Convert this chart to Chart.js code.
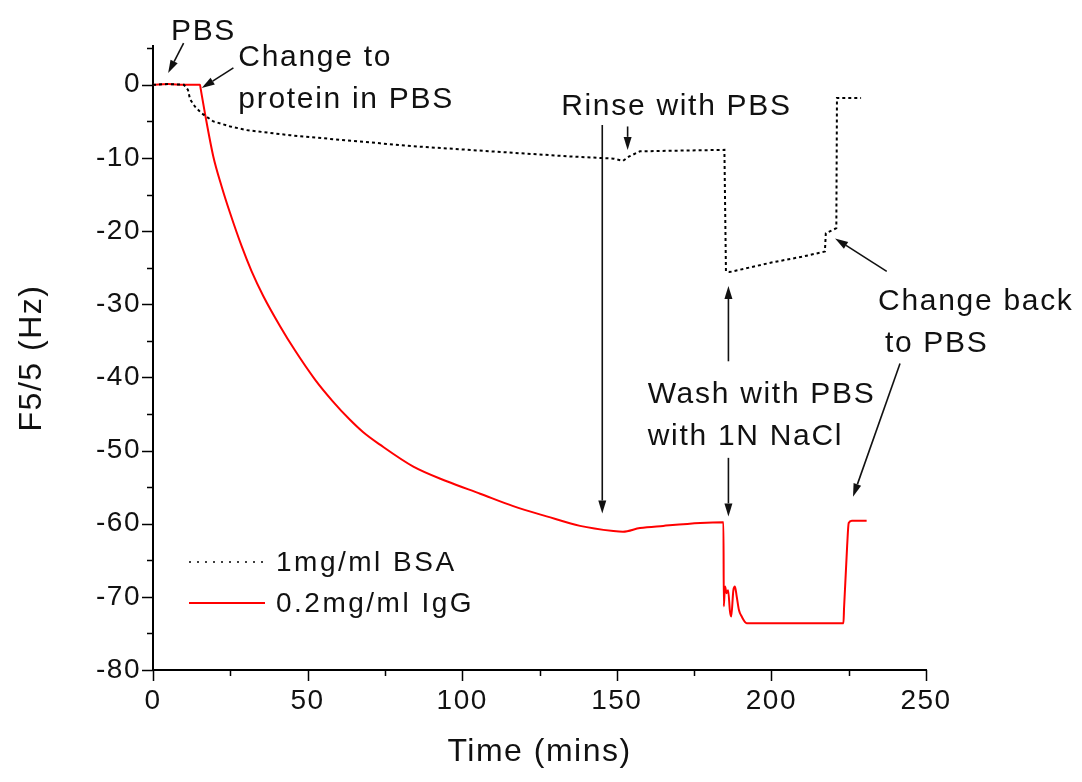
<!DOCTYPE html>
<html>
<head>
<meta charset="utf-8">
<title>QCM frequency shift</title>
<script src="https://cdn.jsdelivr.net/npm/chart.js@4.4.1/dist/chart.umd.min.js"></script>
<style>
  html, body { margin: 0; padding: 0; background: #fff; }
  #wrap { width: 1082px; height: 782px; }
</style>
</head>
<body>
<div id="wrap"><canvas id="myChart" width="1082" height="782"></canvas></div>
<script>
// data (time in mins, shift in Hz)
const bsaTime = [0, 5, 10, 11.3, 12, 13.6, 15.7, 19.5, 25, 30.3, 44.3, 62.6, 73.4, 84, 95, 116.5, 135, 144.6, 149, 152, 154, 157.5, 170, 184.8, 185.3, 186.5, 200, 210, 217.3, 217.6, 221, 221.2, 229];
const bsaShift = [0, 0.1, 0, -0.7, -2, -3, -3.9, -5.0, -5.7, -6.2, -6.9, -7.6, -8.0, -8.4, -8.7, -9.3, -9.8, -10.0, -10.1, -10.4, -9.8, -9.1, -9.0, -8.9, -25.5, -25.6, -24.3, -23.5, -22.8, -20.3, -19.6, -1.8, -1.8];

const iggTime = [0, 5, 10, 15.2, 15.4, 16.8, 19.5, 22.2, 24.9, 28.7, 31.9, 35.7, 41.1, 45.9, 52.4, 58, 63.7, 68, 73.4, 84.2, 95, 105.8, 116.5, 127.3, 138.1, 148.9, 152, 157.5, 165, 177, 184.5, 184.6, 185, 185.5, 186, 186.6, 187, 187.7, 188.2, 188.8, 189.5, 190.4, 192, 223.3, 223.5, 224.5, 225, 226, 230.8];
const iggShift = [0, 0.1, 0, 0, -0.5, -3.9, -9.8, -13.9, -17.5, -22.1, -25.5, -28.9, -33.0, -36.3, -40.3, -43.2, -45.8, -47.5, -49.2, -52.2, -54.2, -55.9, -57.6, -59.0, -60.3, -61.0, -61.1, -60.6, -60.3, -59.9, -59.8, -71.3, -68.6, -69.5, -69.1, -72.0, -72.7, -69.1, -68.6, -70.0, -71.8, -72.7, -73.6, -73.6, -71.5, -63.0, -59.9, -59.6, -59.6];

const seriesNames = ['1mg/ml BSA', '0.2mg/ml IgG'];
const xTicks = [0, 50, 100, 150, 200, 250];
const yTicks = [-80, -70, -60, -50, -40, -30, -20, -10, 0];

// notes: text lines and arrows, in data units
const notes = [
  { text: 'PBS', x: 5.8, y: 6.1 },
  { text: 'Change to', x: 27.6, y: 2.5 },
  { text: 'protein in PBS', x: 27.6, y: -3.2 },
  { text: 'Rinse with PBS', x: 132, y: -4.1 },
  { text: 'Wash with PBS', x: 160, y: -43.5 },
  { text: 'with 1N NaCl', x: 160, y: -49.2 },
  { text: 'Change back', x: 234.5, y: -30.8 },
  { text: 'to PBS', x: 236.7, y: -36.5 }
];
const arrows = [
  [9.9, 5.7, 4.9, 1.6],
  [26.0, 2.3, 15.75, -0.45],
  [145.3, -5.5, 145.3, -58.6],
  [153.5, -5.7, 153.5, -8.9],
  [186.1, -37.8, 186.1, -27.5],
  [186.1, -51.0, 186.1, -59.0],
  [237.3, -25.5, 220.6, -21.0],
  [241.6, -38.1, 226.4, -56.3]
];

const FONT = '"Liberation Sans", Arial, sans-serif';

function toPoints(xs, ys) {
  return xs.map((x, i) => ({ x: x, y: ys[i] }));
}

// the old plot software spaced its letters a little wider
const spacing = {
  id: 'spacing',
  beforeDraw(chart) {
    chart.ctx.letterSpacing = '1.5px';
  }
};

// minor/major tick marks drawn outside the axes
const tickMarks = {
  id: 'tickMarks',
  afterDraw(chart) {
    const ctx = chart.ctx;
    const xs = chart.scales.x, ys = chart.scales.y;
    const area = chart.chartArea;
    ctx.save();
    ctx.strokeStyle = '#000';
    ctx.lineWidth = 1.5;
    ctx.beginPath();
    for (let v = -80; v <= 5; v += 5) {
      const py = Math.round(ys.getPixelForValue(v)) + 0.5;
      const len = v % 10 === 0 ? 11 : 6;
      ctx.moveTo(area.left, py);
      ctx.lineTo(area.left - len, py);
    }
    for (let v = 0; v <= 250; v += 25) {
      const px = Math.round(xs.getPixelForValue(v)) + 0.5;
      const len = v % 50 === 0 ? 11 : 6;
      ctx.moveTo(px, area.bottom);
      ctx.lineTo(px, area.bottom + len);
    }
    ctx.stroke();
    ctx.restore();
  }
};

// legend drawn inside the plot, lower left
const innerLegend = {
  id: 'innerLegend',
  afterDraw(chart) {
    const ctx = chart.ctx;
    ctx.save();
    ctx.font = '28px ' + FONT;
    ctx.letterSpacing = '2.5px';
    ctx.textBaseline = 'middle';
    chart.data.datasets.forEach((ds, i) => {
      const y = 562 + i * 41;
      ctx.strokeStyle = ds.borderColor;
      ctx.lineWidth = i === 0 ? 1.5 : ds.borderWidth;
      ctx.setLineDash(i === 0 ? [2, 6] : []);
      ctx.beginPath();
      ctx.moveTo(189, y);
      ctx.lineTo(265, y);
      ctx.stroke();
      ctx.setLineDash([]);
      ctx.fillStyle = '#111';
      ctx.fillText(ds.label, 276, y + 1);
    });
    ctx.restore();
  }
};

// annotation text and arrows
const notesPlugin = {
  id: 'notes',
  afterDraw(chart) {
    const ctx = chart.ctx;
    const xs = chart.scales.x, ys = chart.scales.y;
    ctx.save();
    ctx.fillStyle = '#111';
    ctx.font = '30px ' + FONT;
    ctx.letterSpacing = '1.7px';
    ctx.textBaseline = 'alphabetic';
    notes.forEach(n => {
      ctx.fillText(n.text, xs.getPixelForValue(n.x), ys.getPixelForValue(n.y));
    });
    ctx.strokeStyle = '#111';
    ctx.lineWidth = 1.6;
    arrows.forEach(a => {
      const x1 = xs.getPixelForValue(a[0]), y1 = ys.getPixelForValue(a[1]);
      const x2 = xs.getPixelForValue(a[2]), y2 = ys.getPixelForValue(a[3]);
      const ang = Math.atan2(y2 - y1, x2 - x1);
      const hl = 13, hw = 4;
      const bx = x2 - hl * Math.cos(ang), by = y2 - hl * Math.sin(ang);
      ctx.beginPath();
      ctx.moveTo(x1, y1);
      ctx.lineTo(bx, by);
      ctx.stroke();
      ctx.beginPath();
      ctx.moveTo(x2, y2);
      ctx.lineTo(bx - hw * Math.sin(ang), by + hw * Math.cos(ang));
      ctx.lineTo(bx + hw * Math.sin(ang), by - hw * Math.cos(ang));
      ctx.closePath();
      ctx.fillStyle = '#111';
      ctx.fill();
    });
    ctx.restore();
  }
};

const ctxChart = document.getElementById('myChart').getContext('2d');
const myChart = new Chart(ctxChart, {
  type: 'line',
  data: {
    datasets: [{
      label: seriesNames[0],
      data: toPoints(bsaTime, bsaShift),
      borderColor: '#000000',
      borderWidth: 2,
      borderDash: [3, 3],
      pointRadius: 0,
      tension: 0,
      fill: false
    }, {
      label: seriesNames[1],
      data: toPoints(iggTime, iggShift),
      borderColor: '#ff0000',
      borderWidth: 2,
      pointRadius: 0,
      cubicInterpolationMode: 'monotone',
      fill: false
    }]
  },
  options: {
    responsive: false,
    animation: false,
    devicePixelRatio: 1,
    layout: {
      padding: { top: 46, right: 156, bottom: 0, left: 0 }
    },
    scales: {
      x: {
        type: 'linear',
        min: 0,
        max: 250,
        afterBuildTicks: s => { s.ticks = xTicks.map(v => ({ value: v })); },
        afterFit: s => { s.height = 112; },
        grid: { display: true, drawOnChartArea: false, drawTicks: false },
        border: { display: true, color: '#000', width: 2 },
        ticks: {
          padding: 14,
          maxRotation: 0,
          color: '#111',
          font: { family: FONT, size: 28 }
        },
        title: {
          display: true,
          text: 'Time (mins)',
          color: '#111',
          font: { family: FONT, size: 32 },
          padding: { top: 0, bottom: 11 }
        }
      },
      y: {
        type: 'linear',
        min: -80,
        max: 5.3,
        afterBuildTicks: s => { s.ticks = yTicks.map(v => ({ value: v })); },
        afterFit: s => { s.width = 153; },
        grid: { display: true, drawOnChartArea: false, drawTicks: false },
        border: { display: true, color: '#000', width: 2 },
        ticks: {
          padding: 12,
          color: '#111',
          font: { family: FONT, size: 28 }
        },
        title: {
          display: true,
          text: 'F5/5 (Hz)',
          color: '#111',
          font: { family: FONT, size: 32 },
          padding: { top: 13, bottom: 0 }
        }
      }
    },
    plugins: {
      legend: { display: false },
      tooltip: { enabled: false }
    }
  },
  plugins: [spacing, tickMarks, innerLegend, notesPlugin]
});
</script>
</body>
</html>
